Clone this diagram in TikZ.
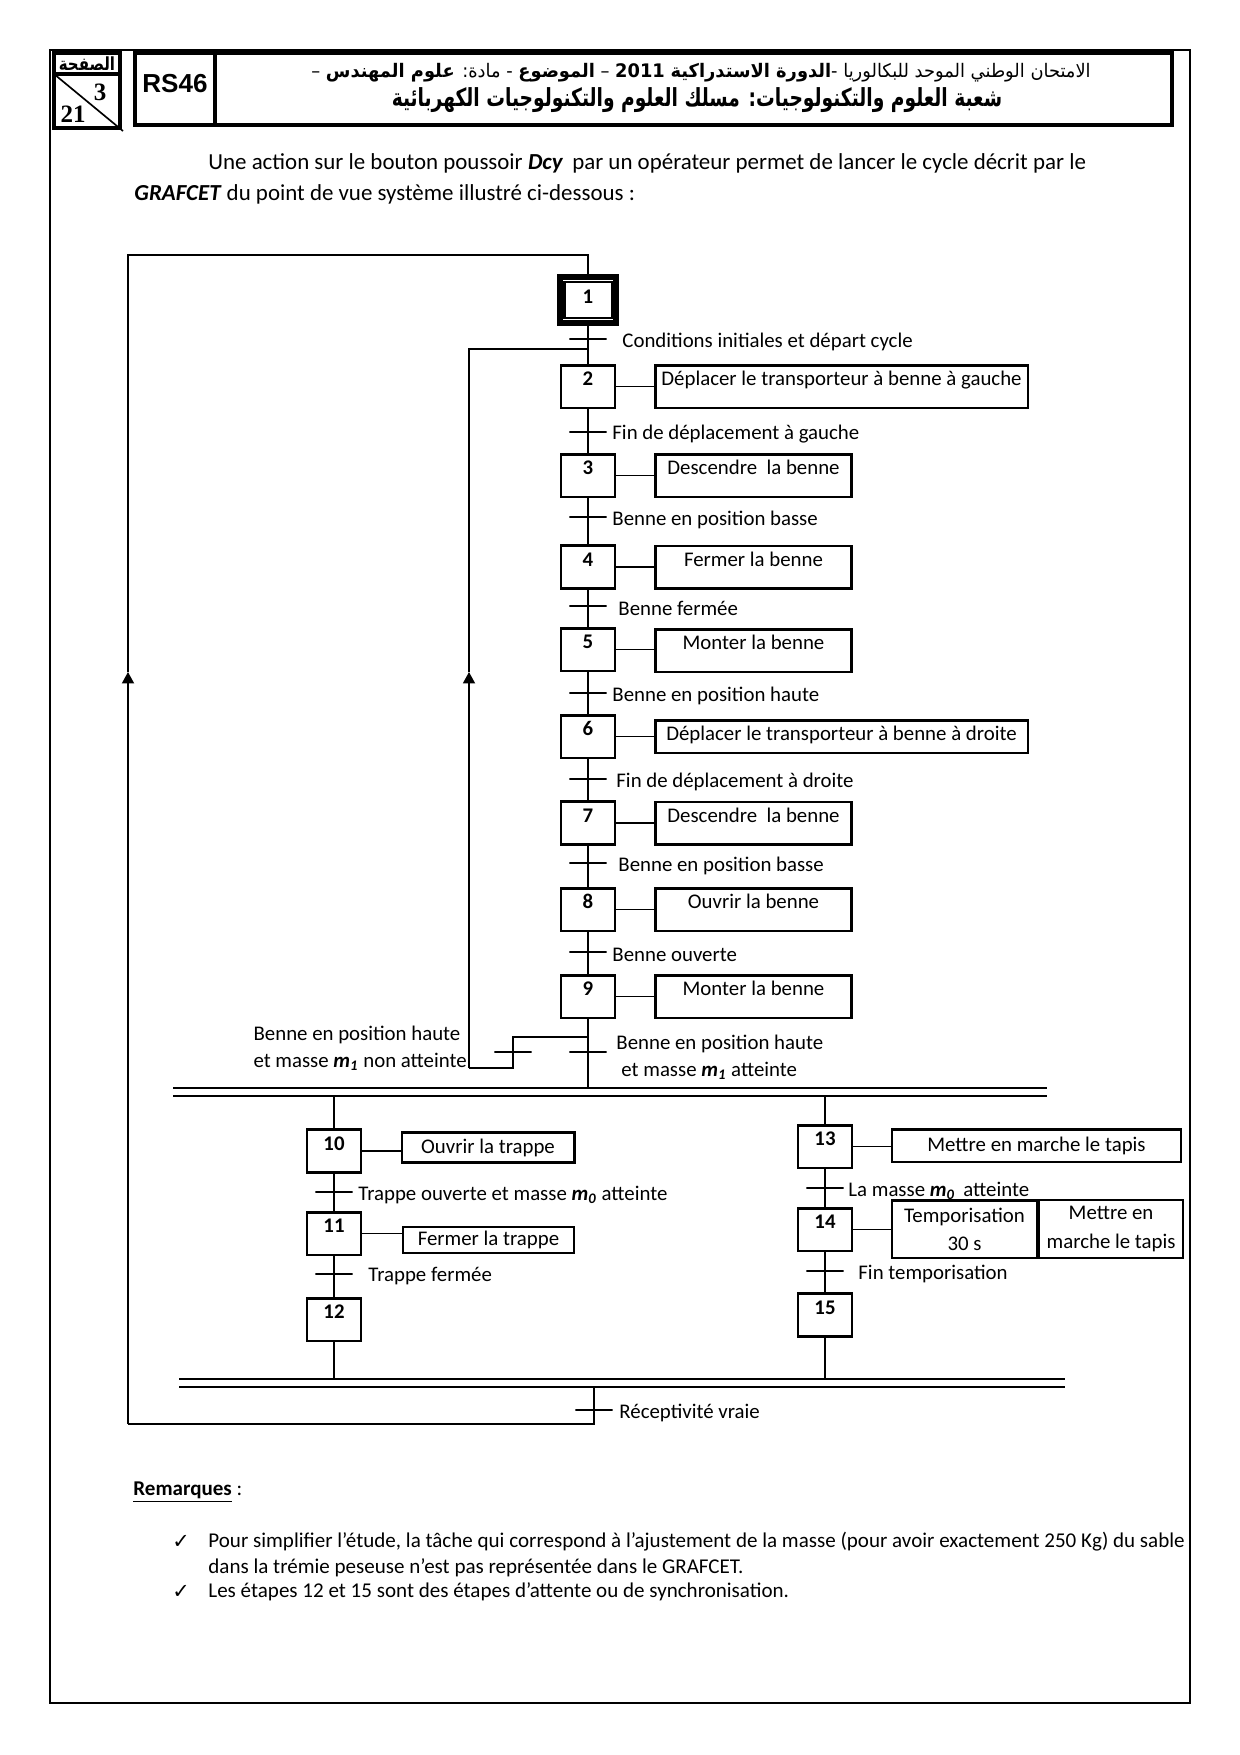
\documentclass[tikz,border=0pt]{standalone}
\usepackage{fontspec}
\usepackage{graphicx}
\setmainfont{Carlito}
\newfontfamily\arabicfont[Script=Arabic]{DejaVu Sans}
\newfontfamily\dejavu{DejaVu Sans}
\newfontfamily\arialf{Liberation Sans}
\newfontfamily\timesf{Liberation Serif}
\TeXXeTstate=1
\usetikzlibrary{arrows.meta}
\newcommand\mymass[1]{\textbf{\textit{m}}\textsubscript{\textbf{\textit{#1}}}}
\newcommand\dfont{\fontsize{10}{12.5}\selectfont}
\tikzset{
  hdr/.style={line width=1.6pt},
  stepbox/.style={draw, line width=1.4pt, minimum width=25.9pt, minimum height=20.6pt,
    inner sep=0pt, font=\bfseries\dfont, text height=6.5pt, text depth=7.2pt},
  actbox/.style={draw, line width=1.2pt, minimum height=20.4pt, inner sep=0pt,
    font=\dfont, text height=6.5pt, text depth=7.2pt},
  actc/.style={draw, line width=1.2pt, inner sep=0pt, font=\dfont},
  link/.style={line width=0.75pt},
  trans/.style={draw, line width=0.75pt, minimum width=17.8pt, minimum height=0pt,
    inner sep=0pt, outer sep=0pt},
  lbl/.style={font=\dfont, inner sep=0pt, anchor=west, yshift=-1.2pt},
  up/.style={-{Triangle[width=5.8pt,length=5.5pt]}},
}
\begin{document}
\begin{tikzpicture}[x=0.48pt,y=-0.48pt]
\fill[white] (0,0) rectangle (1240,1755);
\useasboundingbox (0,0) rectangle (1240,1755);

% page frame
\draw[line width=0.8pt] (50,50) rectangle (1190,1703);

% header
\draw[hdr] (54,53) rectangle (120,128);
\draw[hdr] (54,74) -- (120,74);
\draw[line width=0.8pt] (54,74) -- (123,131);
\node[inner sep=0pt] (pg) at (87,64) {\resizebox*{27pt}{6.6pt}{\arabicfont\bfseries\beginR الصفحة\endR}};
\node[font=\timesf\bfseries\fontsize{12}{14}\selectfont, inner sep=0pt] (pn) at (100,92) {3};
\node[font=\timesf\bfseries\fontsize{12}{14}\selectfont, inner sep=0pt] (pt) at (73,114) {21};
\draw[hdr] (135,53) rectangle (215,125);
\node[font=\arialf\bfseries\fontsize{12.5}{14}\selectfont, inner sep=0pt] (rs) at (175,84) {RS46};
\draw[hdr] (215,53) rectangle (1172,125);
\node[inner sep=0pt] (h1) at (701,73) {\resizebox*{374pt}{9pt}{\arabicfont\beginR الامتحان الوطني الموحد للبكالوريا -{\bfseries الدورة الاستدراكية} {\bfseries\beginL 2011\endL} – {\bfseries الموضوع} - مادة: {\bfseries علوم المهندس} –\endR}};
\node[inner sep=0pt] (h2) at (697,100) {\resizebox*{293pt}{12pt}{\arabicfont\bfseries\beginR شعبة العلوم والتكنولوجيات: مسلك العلوم والتكنولوجيات الكهربائية\endR}};

% intro paragraph
\node[anchor=west, inner sep=0pt, font=\fontsize{11}{13}\selectfont] (p1) at (208,163)
  {Une action sur le bouton poussoir \textbf{\textit{Dcy}}\, par un opérateur permet de lancer le cycle décrit par le};
\node[anchor=west, inner sep=0pt, font=\fontsize{11}{13}\selectfont] (p2) at (134,194)
  {\textbf{\textit{GRAFCET}} du point de vue système illustré ci-dessous :};

% ---------- main sequence ----------
\node[draw, line width=2.9pt, minimum width=26.9pt, minimum height=22.1pt, inner sep=0pt] (s1) at (588,300) {};
\node[draw, line width=1pt, minimum width=22.6pt, minimum height=17.3pt, inner sep=0pt,
  font=\bfseries\dfont, text height=6.5pt, text depth=2.9pt] (s1i) at (588,300) {1};

\node[stepbox] (s2) at (588,386.5) {2};
\node[stepbox] (s3) at (588,475.5) {3};
\node[stepbox] (s4) at (588,567) {4};
\node[stepbox] (s5) at (588,649.5) {5};
\node[stepbox] (s6) at (588,736.5) {6};
\node[stepbox] (s7) at (588,823) {7};
\node[stepbox] (s8) at (588,909.5) {8};
\node[stepbox] (s9) at (588,996.5) {9};

\node[actbox, minimum width=178.8pt] (a2) at (841.5,386.5) {Déplacer le transporteur à benne à gauche};
\node[actbox, minimum width=94.3pt] (a3) at (753.5,475.5) {Descendre\ \ la benne};
\node[actbox, minimum width=94.3pt] (a4) at (753.5,567) {Fermer la benne};
\node[actbox, minimum width=94.3pt] (a5) at (753.5,650.5) {Monter la benne};
\node[actbox, minimum width=178.8pt, minimum height=15.6pt, text depth=2.4pt] (a6) at (841.5,736.5) {Déplacer le transporteur à benne à droite};
\node[actbox, minimum width=94.3pt] (a7) at (753.5,823) {Descendre\ \ la benne};
\node[actbox, minimum width=94.3pt] (a8) at (753.5,909.5) {Ouvrir la benne};
\node[actbox, minimum width=94.3pt] (a9) at (753.5,996.5) {Monter la benne};

\foreach \i in {2,...,9} {\draw[link] (s\i.east) -- (a\i.west |- s\i.east);}

\node[trans] (t1) at (588,339) {};
\node[trans] (t2) at (588,432) {};
\node[trans] (t3) at (588,517) {};
\node[trans] (t4) at (588,606) {};
\node[trans] (t5) at (588,693) {};
\node[trans] (t6) at (588,779) {};
\node[trans] (t7) at (588,863) {};
\node[trans] (t8) at (588,952) {};
\node[trans] (t9) at (588,1052) {};

\node[lbl] (l1) at (622,339) {Conditions initiales et départ cycle};
\node[lbl] (l2) at (612,432) {Fin de déplacement à gauche};
\node[lbl] (l3) at (612,517) {Benne en position basse};
\node[lbl] (l4) at (618,606) {Benne fermée};
\node[lbl] (l5) at (612,693) {Benne en position haute};
\node[lbl] (l6) at (616,779) {Fin de déplacement à droite};
\node[lbl] (l7) at (618,863) {Benne en position basse};
\node[lbl] (l8) at (612,952) {Benne ouverte};
\node[lbl, align=left] (l9) at (616,1055) {Benne en position haute\\[0.5pt]\hspace*{2.4pt}et masse \mymass{1} atteinte};

\draw[link] (s1.south) -- (s2.north);
\draw[link] (s2.south) -- (s3.north);
\draw[link] (s3.south) -- (s4.north);
\draw[link] (s4.south) -- (s5.north);
\draw[link] (s5.south) -- (s6.north);
\draw[link] (s6.south) -- (s7.north);
\draw[link] (s7.south) -- (s8.north);
\draw[link] (s8.south) -- (s9.north);

% AND divergence
\coordinate (dT) at (588,1088);
\draw[link] (s9.south) -- (dT);
\draw[link] (173,1088) -- (1047,1088);
\draw[link] (173,1096) -- (1047,1096);

% loop back from step 9
\coordinate (j9) at (588,1037);
\coordinate (j1) at (588,349);
\node[trans] (t9b) at (513,1052) {};
\node[font=\dfont, inner sep=0pt, align=center, yshift=-1.2pt] (l9b) at (357,1046) {Benne en position haute\\[0.5pt]\hspace*{3pt}et masse \mymass{1} non atteinte};
\draw[link] (j9) -- (513,1037) -- (t9b.center) -- (513,1068) -- (469,1068) coordinate (lb);
\draw[link, up] (lb) -- (469,672) coordinate (la);
\draw[link] (la) -- (469,349) -- (j1);

% ---------- left branch ----------
\node[stepbox] (s10) at (334,1151) {10};
\node[stepbox] (s11) at (334,1233.5) {11};
\node[stepbox] (s12) at (334,1319.5) {12};
\node[actc, minimum width=82.8pt, minimum height=14.4pt] (a10) at (488,1147.5) {Ouvrir la trappe};
\node[actc, minimum width=82.3pt, minimum height=12.7pt] (a11) at (488.5,1240) {Fermer la trappe};
\draw[link] (s10.east) -- (a10.west |- s10.east);
\draw[link] (s11.east) -- (a11.west |- s11.east);
\node[trans] (t10) at (334,1192) {};
\node[trans] (t11) at (334,1274) {};
\node[lbl] (l10) at (358,1192) {Trappe ouverte et masse \mymass{0} atteinte};
\node[lbl] (l11) at (368,1274) {Trappe fermée};
\draw[link] (334,1096) -- (s10.north);
\draw[link] (s10.south) -- (s11.north);
\draw[link] (s11.south) -- (s12.north);

% ---------- right branch ----------
\node[stepbox] (s13) at (825,1146.5) {13};
\node[stepbox] (s14) at (825,1229.5) {14};
\node[stepbox] (s15) at (825,1315) {15};
\node[actc, minimum width=138.5pt, minimum height=15.6pt] (a13) at (1036.5,1145.5) {Mettre en marche le tapis};
\node[actc, minimum width=69.4pt, minimum height=27.6pt, align=center] (a14a) at (964.5,1229) {Temporisation\\[1pt]30 s};
\node[actc, minimum width=69.1pt, minimum height=27.6pt, align=center, anchor=west, line width=1pt] (a14b) at (a14a.east) {Mettre en\\[1pt]marche le tapis};
\draw[link] (s13.east) -- (a13.west |- s13.east);
\draw[link] (s14.east) -- (a14a.west |- s14.east);
\node[trans] (t13) at (825,1188) {};
\node[trans] (t14) at (825,1271) {};
\node[lbl] (l13) at (848,1188) {La masse \mymass{0}\, atteinte};
\node[lbl] (l14) at (858,1271) {Fin temporisation};
\draw[link] (825,1096) -- (s13.north);
\draw[link] (s13.south) -- (s14.north);
\draw[link] (s14.south) -- (s15.north);

% AND convergence
\draw[link] (179,1379) -- (1065,1379);
\draw[link] (179,1387) -- (1065,1387);
\coordinate (cT) at (334,1379);
\coordinate (cT2) at (825,1379);
\draw[link] (s12.south) -- (cT);
\draw[link] (s15.south) -- (cT2);

% final transition and return to step 1
\coordinate (cB) at (594,1387);
\node[trans] (tr) at (594,1410) {};
\node[lbl] (lr) at (619,1410) {Réceptivité vraie};
\draw[link] (cB) -- (tr.center) -- (594,1424) -- (128,1424) coordinate (rb);
\draw[link, up] (rb) -- (128,672) coordinate (ra);
\draw[link] (ra) -- (128,255) -- (s1.north |- 0,255) -- (s1.north);

% ---------- remarks ----------
\node[anchor=west, inner sep=0pt, font=\bfseries\fontsize{10.1}{12}\selectfont] (rq) at (133,1492) {\underline{Remarques}\mdseries\ :};
\node[anchor=west, inner sep=0pt, font=\dejavu\fontsize{10}{12}\selectfont] (c1) at (172,1542) {✓};
\node[anchor=west, inner sep=0pt, font=\dejavu\fontsize{10}{12}\selectfont] (c2) at (172,1592) {✓};
\node[anchor=west, inner sep=0pt, font=\fontsize{10.1}{12}\selectfont] (r1) at (208,1542) {Pour simplifier l’étude, la tâche qui correspond à l’ajustement de la masse (pour avoir exactement 250 Kg) du sable};
\node[anchor=west, inner sep=0pt, font=\fontsize{10.1}{12}\selectfont] (r2) at (208,1568) {dans la trémie peseuse n’est pas représentée dans le GRAFCET.};
\node[anchor=west, inner sep=0pt, font=\fontsize{10.1}{12}\selectfont] (r3) at (208,1592) {Les étapes 12 et 15 sont des étapes d’attente ou de synchronisation.};
\end{tikzpicture}
\end{document}
